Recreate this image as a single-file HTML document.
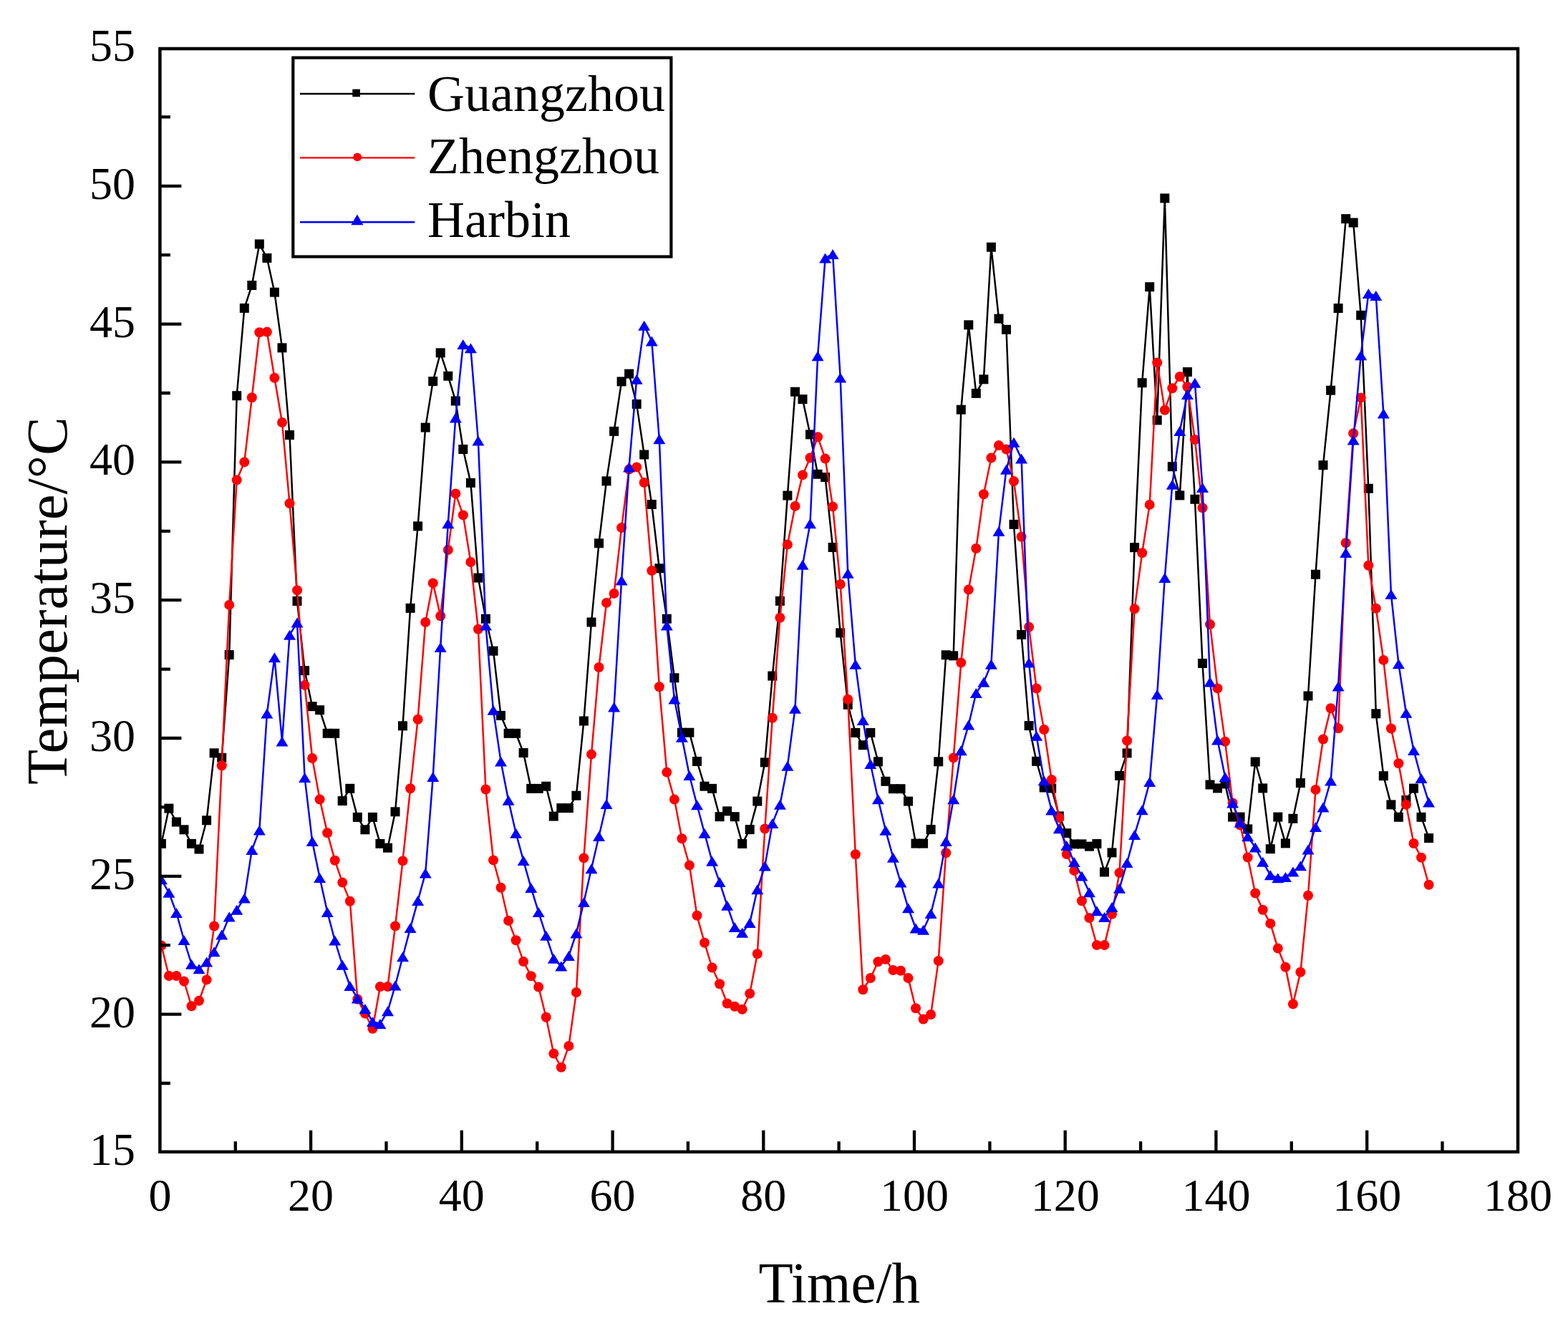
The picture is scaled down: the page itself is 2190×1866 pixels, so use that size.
<!DOCTYPE html>
<html><head><meta charset="utf-8"><title>Temperature chart</title>
<style>html,body{margin:0;padding:0;background:#fff;}svg{display:block;}</style>
</head><body>
<svg width="2190" height="1866" viewBox="0 0 2190 1866">
<rect width="2190" height="1866" fill="#fff"/>
<g font-family="'Liberation Serif', 'Times New Roman', serif" fill="#000">
<g font-size="64"><text x="223.4" y="1690.5" text-anchor="middle">0</text><text x="434.1" y="1690.5" text-anchor="middle">20</text><text x="644.8" y="1690.5" text-anchor="middle">40</text><text x="855.6" y="1690.5" text-anchor="middle">60</text><text x="1066.3" y="1690.5" text-anchor="middle">80</text><text x="1277.0" y="1690.5" text-anchor="middle">100</text><text x="1487.7" y="1690.5" text-anchor="middle">120</text><text x="1698.4" y="1690.5" text-anchor="middle">140</text><text x="1909.2" y="1690.5" text-anchor="middle">160</text><text x="2119.9" y="1690.5" text-anchor="middle">180</text><text x="189" y="1627.4" text-anchor="end">15</text><text x="189" y="1434.6" text-anchor="end">20</text><text x="189" y="1241.8" text-anchor="end">25</text><text x="189" y="1049.0" text-anchor="end">30</text><text x="189" y="856.2" text-anchor="end">35</text><text x="189" y="663.4" text-anchor="end">40</text><text x="189" y="470.6" text-anchor="end">45</text><text x="189" y="277.8" text-anchor="end">50</text><text x="189" y="85.0" text-anchor="end">55</text></g>
<text transform="translate(1172.3 1818.7) scale(1 1.02)" font-size="79" text-anchor="middle">Time/h</text>
<text transform="translate(93.4 839.2) rotate(-90)" font-size="80.5" text-anchor="middle">Temperature/°C</text>
</g>
<defs><clipPath id="pc"><rect x="223.4" y="68.0" width="1896.6" height="1540.8"/></clipPath></defs>
<g clip-path="url(#pc)">
<polyline fill="none" stroke="#000" stroke-width="2.5" stroke-linejoin="round" points="225.4,1178.4 235.9,1129.1 246.4,1148.0 257.0,1158.8 267.5,1178.4 278.0,1186.0 288.6,1145.8 299.1,1051.8 309.7,1058.3 320.2,914.6 330.7,552.7 341.3,430.4 351.8,398.5 362.3,340.9 372.9,360.4 383.4,408.2 394.0,485.8 404.5,607.6 415.0,839.6 425.6,936.7 436.1,986.7 446.6,991.7 457.2,1024.3 467.7,1024.3 478.2,1118.6 488.8,1101.3 499.3,1141.4 509.9,1158.8 520.4,1141.4 530.9,1178.4 541.5,1184.2 552.0,1133.8 562.5,1013.8 573.1,849.4 583.6,734.9 594.2,597.1 604.7,532.6 615.2,492.8 625.8,525.2 636.3,560.0 646.8,627.5 657.4,674.4 667.9,807.1 678.4,864.3 689.0,909.2 699.5,999.4 710.1,1024.3 720.6,1024.3 731.1,1051.5 741.7,1101.4 752.2,1101.4 762.7,1098.2 773.3,1140.1 783.8,1128.6 794.4,1128.6 804.9,1111.2 815.4,1007.0 826.0,869.0 836.5,758.8 847.0,671.9 857.6,602.4 868.1,532.9 878.6,522.1 889.2,564.4 899.7,635.0 910.3,704.5 920.8,793.8 931.3,864.3 941.9,946.8 952.4,1023.2 962.9,1023.2 973.5,1063.4 984.0,1098.2 994.6,1101.4 1005.1,1140.7 1015.6,1132.9 1026.2,1140.7 1036.7,1178.5 1047.2,1158.6 1057.8,1119.1 1068.3,1064.9 1078.8,944.1 1089.4,839.4 1099.9,692.1 1110.5,547.2 1121.0,557.6 1131.5,606.9 1142.1,662.3 1152.6,666.6 1163.1,764.5 1173.7,883.9 1184.2,984.3 1194.8,1023.4 1205.3,1040.7 1215.8,1023.4 1226.4,1063.8 1236.9,1091.3 1247.4,1101.7 1258.0,1101.7 1268.5,1119.1 1279.0,1178.1 1289.6,1178.1 1300.1,1158.6 1310.7,1063.8 1321.2,914.8 1331.7,915.9 1342.3,572.2 1352.8,453.8 1363.3,549.4 1373.9,529.8 1384.4,345.2 1395.0,445.1 1405.5,460.3 1416.0,732.4 1426.6,886.5 1437.1,1013.6 1447.6,1063.3 1458.2,1100.0 1468.7,1101.0 1479.3,1139.9 1489.8,1163.7 1500.3,1178.9 1510.9,1178.9 1521.4,1182.2 1531.9,1178.5 1542.5,1218.0 1553.0,1190.9 1563.5,1083.4 1574.1,1051.9 1584.6,764.7 1595.2,534.7 1605.7,400.7 1616.2,586.9 1626.8,276.9 1637.3,651.7 1647.8,691.9 1658.4,519.5 1668.9,697.3 1679.5,926.5 1690.0,1096.0 1700.5,1100.9 1711.1,1094.9 1721.6,1141.1 1732.1,1141.1 1742.7,1157.9 1753.2,1064.0 1763.7,1100.9 1774.3,1185.7 1784.8,1141.1 1795.4,1177.9 1805.9,1143.3 1816.4,1093.6 1827.0,972.0 1837.5,802.3 1848.0,649.7 1858.6,545.2 1869.1,430.5 1879.7,305.6 1890.2,311.0 1900.7,440.3 1911.3,682.3 1921.8,996.8 1932.3,1083.7 1942.9,1123.9 1953.4,1141.2 1963.9,1117.4 1974.5,1101.1 1985.0,1141.2 1995.6,1170.6"/>
<g fill="#000"><rect x="218.9" y="1171.9" width="13.0" height="13.0"/><rect x="229.4" y="1122.6" width="13.0" height="13.0"/><rect x="239.9" y="1141.5" width="13.0" height="13.0"/><rect x="250.5" y="1152.3" width="13.0" height="13.0"/><rect x="261.0" y="1171.9" width="13.0" height="13.0"/><rect x="271.5" y="1179.5" width="13.0" height="13.0"/><rect x="282.1" y="1139.3" width="13.0" height="13.0"/><rect x="292.6" y="1045.3" width="13.0" height="13.0"/><rect x="303.2" y="1051.8" width="13.0" height="13.0"/><rect x="313.7" y="908.1" width="13.0" height="13.0"/><rect x="324.2" y="546.2" width="13.0" height="13.0"/><rect x="334.8" y="423.9" width="13.0" height="13.0"/><rect x="345.3" y="392.0" width="13.0" height="13.0"/><rect x="355.8" y="334.4" width="13.0" height="13.0"/><rect x="366.4" y="353.9" width="13.0" height="13.0"/><rect x="376.9" y="401.7" width="13.0" height="13.0"/><rect x="387.5" y="479.3" width="13.0" height="13.0"/><rect x="398.0" y="601.1" width="13.0" height="13.0"/><rect x="408.5" y="833.1" width="13.0" height="13.0"/><rect x="419.1" y="930.2" width="13.0" height="13.0"/><rect x="429.6" y="980.2" width="13.0" height="13.0"/><rect x="440.1" y="985.2" width="13.0" height="13.0"/><rect x="450.7" y="1017.8" width="13.0" height="13.0"/><rect x="461.2" y="1017.8" width="13.0" height="13.0"/><rect x="471.7" y="1112.1" width="13.0" height="13.0"/><rect x="482.3" y="1094.8" width="13.0" height="13.0"/><rect x="492.8" y="1134.9" width="13.0" height="13.0"/><rect x="503.4" y="1152.3" width="13.0" height="13.0"/><rect x="513.9" y="1134.9" width="13.0" height="13.0"/><rect x="524.4" y="1171.9" width="13.0" height="13.0"/><rect x="535.0" y="1177.7" width="13.0" height="13.0"/><rect x="545.5" y="1127.3" width="13.0" height="13.0"/><rect x="556.0" y="1007.3" width="13.0" height="13.0"/><rect x="566.6" y="842.9" width="13.0" height="13.0"/><rect x="577.1" y="728.4" width="13.0" height="13.0"/><rect x="587.7" y="590.6" width="13.0" height="13.0"/><rect x="598.2" y="526.1" width="13.0" height="13.0"/><rect x="608.7" y="486.3" width="13.0" height="13.0"/><rect x="619.3" y="518.7" width="13.0" height="13.0"/><rect x="629.8" y="553.5" width="13.0" height="13.0"/><rect x="640.3" y="621.0" width="13.0" height="13.0"/><rect x="650.9" y="667.9" width="13.0" height="13.0"/><rect x="661.4" y="800.6" width="13.0" height="13.0"/><rect x="671.9" y="857.8" width="13.0" height="13.0"/><rect x="682.5" y="902.7" width="13.0" height="13.0"/><rect x="693.0" y="992.9" width="13.0" height="13.0"/><rect x="703.6" y="1017.8" width="13.0" height="13.0"/><rect x="714.1" y="1017.8" width="13.0" height="13.0"/><rect x="724.6" y="1045.0" width="13.0" height="13.0"/><rect x="735.2" y="1094.9" width="13.0" height="13.0"/><rect x="745.7" y="1094.9" width="13.0" height="13.0"/><rect x="756.2" y="1091.7" width="13.0" height="13.0"/><rect x="766.8" y="1133.6" width="13.0" height="13.0"/><rect x="777.3" y="1122.1" width="13.0" height="13.0"/><rect x="787.9" y="1122.1" width="13.0" height="13.0"/><rect x="798.4" y="1104.7" width="13.0" height="13.0"/><rect x="808.9" y="1000.5" width="13.0" height="13.0"/><rect x="819.5" y="862.5" width="13.0" height="13.0"/><rect x="830.0" y="752.3" width="13.0" height="13.0"/><rect x="840.5" y="665.4" width="13.0" height="13.0"/><rect x="851.1" y="595.9" width="13.0" height="13.0"/><rect x="861.6" y="526.4" width="13.0" height="13.0"/><rect x="872.1" y="515.6" width="13.0" height="13.0"/><rect x="882.7" y="557.9" width="13.0" height="13.0"/><rect x="893.2" y="628.5" width="13.0" height="13.0"/><rect x="903.8" y="698.0" width="13.0" height="13.0"/><rect x="914.3" y="787.3" width="13.0" height="13.0"/><rect x="924.8" y="857.8" width="13.0" height="13.0"/><rect x="935.4" y="940.3" width="13.0" height="13.0"/><rect x="945.9" y="1016.7" width="13.0" height="13.0"/><rect x="956.4" y="1016.7" width="13.0" height="13.0"/><rect x="967.0" y="1056.9" width="13.0" height="13.0"/><rect x="977.5" y="1091.7" width="13.0" height="13.0"/><rect x="988.1" y="1094.9" width="13.0" height="13.0"/><rect x="998.6" y="1134.2" width="13.0" height="13.0"/><rect x="1009.1" y="1126.4" width="13.0" height="13.0"/><rect x="1019.7" y="1134.2" width="13.0" height="13.0"/><rect x="1030.2" y="1172.0" width="13.0" height="13.0"/><rect x="1040.7" y="1152.1" width="13.0" height="13.0"/><rect x="1051.3" y="1112.6" width="13.0" height="13.0"/><rect x="1061.8" y="1058.4" width="13.0" height="13.0"/><rect x="1072.3" y="937.6" width="13.0" height="13.0"/><rect x="1082.9" y="832.9" width="13.0" height="13.0"/><rect x="1093.4" y="685.6" width="13.0" height="13.0"/><rect x="1104.0" y="540.7" width="13.0" height="13.0"/><rect x="1114.5" y="551.1" width="13.0" height="13.0"/><rect x="1125.0" y="600.4" width="13.0" height="13.0"/><rect x="1135.6" y="655.8" width="13.0" height="13.0"/><rect x="1146.1" y="660.1" width="13.0" height="13.0"/><rect x="1156.6" y="758.0" width="13.0" height="13.0"/><rect x="1167.2" y="877.4" width="13.0" height="13.0"/><rect x="1177.7" y="977.8" width="13.0" height="13.0"/><rect x="1188.3" y="1016.9" width="13.0" height="13.0"/><rect x="1198.8" y="1034.2" width="13.0" height="13.0"/><rect x="1209.3" y="1016.9" width="13.0" height="13.0"/><rect x="1219.9" y="1057.3" width="13.0" height="13.0"/><rect x="1230.4" y="1084.8" width="13.0" height="13.0"/><rect x="1240.9" y="1095.2" width="13.0" height="13.0"/><rect x="1251.5" y="1095.2" width="13.0" height="13.0"/><rect x="1262.0" y="1112.6" width="13.0" height="13.0"/><rect x="1272.5" y="1171.6" width="13.0" height="13.0"/><rect x="1283.1" y="1171.6" width="13.0" height="13.0"/><rect x="1293.6" y="1152.1" width="13.0" height="13.0"/><rect x="1304.2" y="1057.3" width="13.0" height="13.0"/><rect x="1314.7" y="908.3" width="13.0" height="13.0"/><rect x="1325.2" y="909.4" width="13.0" height="13.0"/><rect x="1335.8" y="565.7" width="13.0" height="13.0"/><rect x="1346.3" y="447.3" width="13.0" height="13.0"/><rect x="1356.8" y="542.9" width="13.0" height="13.0"/><rect x="1367.4" y="523.3" width="13.0" height="13.0"/><rect x="1377.9" y="338.7" width="13.0" height="13.0"/><rect x="1388.5" y="438.6" width="13.0" height="13.0"/><rect x="1399.0" y="453.8" width="13.0" height="13.0"/><rect x="1409.5" y="725.9" width="13.0" height="13.0"/><rect x="1420.1" y="880.0" width="13.0" height="13.0"/><rect x="1430.6" y="1007.1" width="13.0" height="13.0"/><rect x="1441.1" y="1056.8" width="13.0" height="13.0"/><rect x="1451.7" y="1093.5" width="13.0" height="13.0"/><rect x="1462.2" y="1094.5" width="13.0" height="13.0"/><rect x="1472.8" y="1133.4" width="13.0" height="13.0"/><rect x="1483.3" y="1157.2" width="13.0" height="13.0"/><rect x="1493.8" y="1172.4" width="13.0" height="13.0"/><rect x="1504.4" y="1172.4" width="13.0" height="13.0"/><rect x="1514.9" y="1175.7" width="13.0" height="13.0"/><rect x="1525.4" y="1172.0" width="13.0" height="13.0"/><rect x="1536.0" y="1211.5" width="13.0" height="13.0"/><rect x="1546.5" y="1184.4" width="13.0" height="13.0"/><rect x="1557.0" y="1076.9" width="13.0" height="13.0"/><rect x="1567.6" y="1045.4" width="13.0" height="13.0"/><rect x="1578.1" y="758.2" width="13.0" height="13.0"/><rect x="1588.7" y="528.2" width="13.0" height="13.0"/><rect x="1599.2" y="394.2" width="13.0" height="13.0"/><rect x="1609.7" y="580.4" width="13.0" height="13.0"/><rect x="1620.3" y="270.4" width="13.0" height="13.0"/><rect x="1630.8" y="645.2" width="13.0" height="13.0"/><rect x="1641.3" y="685.4" width="13.0" height="13.0"/><rect x="1651.9" y="513.0" width="13.0" height="13.0"/><rect x="1662.4" y="690.8" width="13.0" height="13.0"/><rect x="1673.0" y="920.0" width="13.0" height="13.0"/><rect x="1683.5" y="1089.5" width="13.0" height="13.0"/><rect x="1694.0" y="1094.4" width="13.0" height="13.0"/><rect x="1704.6" y="1088.4" width="13.0" height="13.0"/><rect x="1715.1" y="1134.6" width="13.0" height="13.0"/><rect x="1725.6" y="1134.6" width="13.0" height="13.0"/><rect x="1736.2" y="1151.4" width="13.0" height="13.0"/><rect x="1746.7" y="1057.5" width="13.0" height="13.0"/><rect x="1757.2" y="1094.4" width="13.0" height="13.0"/><rect x="1767.8" y="1179.2" width="13.0" height="13.0"/><rect x="1778.3" y="1134.6" width="13.0" height="13.0"/><rect x="1788.9" y="1171.4" width="13.0" height="13.0"/><rect x="1799.4" y="1136.8" width="13.0" height="13.0"/><rect x="1809.9" y="1087.1" width="13.0" height="13.0"/><rect x="1820.5" y="965.5" width="13.0" height="13.0"/><rect x="1831.0" y="795.8" width="13.0" height="13.0"/><rect x="1841.5" y="643.2" width="13.0" height="13.0"/><rect x="1852.1" y="538.7" width="13.0" height="13.0"/><rect x="1862.6" y="424.0" width="13.0" height="13.0"/><rect x="1873.2" y="299.1" width="13.0" height="13.0"/><rect x="1883.7" y="304.5" width="13.0" height="13.0"/><rect x="1894.2" y="433.8" width="13.0" height="13.0"/><rect x="1904.8" y="675.8" width="13.0" height="13.0"/><rect x="1915.3" y="990.3" width="13.0" height="13.0"/><rect x="1925.8" y="1077.2" width="13.0" height="13.0"/><rect x="1936.4" y="1117.4" width="13.0" height="13.0"/><rect x="1946.9" y="1134.8" width="13.0" height="13.0"/><rect x="1957.4" y="1110.9" width="13.0" height="13.0"/><rect x="1968.0" y="1094.6" width="13.0" height="13.0"/><rect x="1978.5" y="1134.8" width="13.0" height="13.0"/><rect x="1989.1" y="1164.1" width="13.0" height="13.0"/></g>
<polyline fill="none" stroke="#f00" stroke-width="2.5" stroke-linejoin="round" points="225.4,1320.6 235.9,1363.0 246.4,1363.0 257.0,1370.6 267.5,1405.3 278.0,1397.7 288.6,1368.4 299.1,1293.5 309.7,1069.2 320.2,844.9 330.7,670.4 341.3,645.4 351.8,555.3 362.3,464.3 372.9,463.6 383.4,527.7 394.0,590.0 404.5,703.1 415.0,824.4 425.6,956.9 436.1,1059.0 446.6,1116.5 457.2,1163.2 467.7,1201.7 478.2,1232.6 488.8,1258.7 499.3,1395.5 509.9,1415.6 520.4,1436.8 530.9,1378.1 541.5,1378.1 552.0,1293.4 562.5,1202.4 573.1,1101.3 583.6,1004.7 594.2,869.0 604.7,814.4 615.2,860.5 625.8,768.0 636.3,689.4 646.8,719.4 657.4,785.0 667.9,878.8 678.4,1102.5 689.0,1201.4 699.5,1239.7 710.1,1285.9 720.6,1313.2 731.1,1343.1 741.7,1363.2 752.2,1378.6 762.7,1420.7 773.3,1471.6 783.8,1490.8 794.4,1460.9 804.9,1386.0 815.4,1198.4 826.0,1053.6 836.5,932.0 847.0,841.9 857.6,828.9 868.1,737.1 878.6,655.6 889.2,652.4 899.7,674.1 910.3,797.1 920.8,959.2 931.3,1078.6 941.9,1116.6 952.4,1171.3 962.9,1208.6 973.5,1278.8 984.0,1316.8 994.6,1351.5 1005.1,1374.3 1015.6,1401.5 1026.2,1405.8 1036.7,1409.8 1047.2,1387.7 1057.8,1332.3 1068.3,1157.5 1078.8,1002.7 1089.4,862.7 1099.9,760.6 1110.5,706.9 1121.0,663.4 1131.5,639.5 1142.1,610.2 1152.6,640.6 1163.1,707.6 1173.7,816.0 1184.2,976.7 1194.8,1193.3 1205.3,1382.3 1215.8,1366.0 1226.4,1343.2 1236.9,1339.9 1247.4,1355.1 1258.0,1355.8 1268.5,1366.0 1279.0,1408.3 1289.6,1423.6 1300.1,1417.0 1310.7,1342.1 1321.2,1191.2 1331.7,1058.4 1342.3,925.6 1352.8,823.6 1363.3,766.0 1373.9,690.3 1384.4,639.5 1395.0,622.1 1405.5,627.5 1416.0,672.1 1426.6,749.7 1437.1,875.7 1447.6,961.5 1458.2,1019.0 1468.7,1089.1 1479.3,1142.0 1489.8,1193.1 1500.3,1215.9 1510.9,1258.2 1521.4,1282.1 1531.9,1320.1 1542.5,1320.1 1553.0,1276.7 1563.5,1219.1 1574.1,1034.5 1584.6,850.4 1595.2,772.3 1605.7,704.9 1616.2,506.5 1626.8,572.7 1637.3,542.3 1647.8,526.0 1658.4,540.2 1668.9,614.0 1679.5,709.3 1690.0,872.1 1700.5,961.4 1711.1,1035.8 1721.6,1121.5 1732.1,1152.5 1742.7,1197.5 1753.2,1247.5 1763.7,1270.7 1774.3,1289.9 1784.8,1324.6 1795.4,1350.7 1805.9,1402.4 1816.4,1357.8 1827.0,1250.8 1837.5,1102.9 1848.0,1032.5 1858.6,989.3 1869.1,1017.3 1879.7,758.3 1890.2,605.3 1900.7,555.4 1911.3,789.8 1921.8,849.7 1932.3,921.9 1942.9,1017.5 1953.4,1066.3 1963.9,1123.9 1974.5,1178.0 1985.0,1197.7 1995.6,1235.8"/>
<g fill="#f00"><circle cx="225.4" cy="1320.6" r="7.0"/><circle cx="235.9" cy="1363.0" r="7.0"/><circle cx="246.4" cy="1363.0" r="7.0"/><circle cx="257.0" cy="1370.6" r="7.0"/><circle cx="267.5" cy="1405.3" r="7.0"/><circle cx="278.0" cy="1397.7" r="7.0"/><circle cx="288.6" cy="1368.4" r="7.0"/><circle cx="299.1" cy="1293.5" r="7.0"/><circle cx="309.7" cy="1069.2" r="7.0"/><circle cx="320.2" cy="844.9" r="7.0"/><circle cx="330.7" cy="670.4" r="7.0"/><circle cx="341.3" cy="645.4" r="7.0"/><circle cx="351.8" cy="555.3" r="7.0"/><circle cx="362.3" cy="464.3" r="7.0"/><circle cx="372.9" cy="463.6" r="7.0"/><circle cx="383.4" cy="527.7" r="7.0"/><circle cx="394.0" cy="590.0" r="7.0"/><circle cx="404.5" cy="703.1" r="7.0"/><circle cx="415.0" cy="824.4" r="7.0"/><circle cx="425.6" cy="956.9" r="7.0"/><circle cx="436.1" cy="1059.0" r="7.0"/><circle cx="446.6" cy="1116.5" r="7.0"/><circle cx="457.2" cy="1163.2" r="7.0"/><circle cx="467.7" cy="1201.7" r="7.0"/><circle cx="478.2" cy="1232.6" r="7.0"/><circle cx="488.8" cy="1258.7" r="7.0"/><circle cx="499.3" cy="1395.5" r="7.0"/><circle cx="509.9" cy="1415.6" r="7.0"/><circle cx="520.4" cy="1436.8" r="7.0"/><circle cx="530.9" cy="1378.1" r="7.0"/><circle cx="541.5" cy="1378.1" r="7.0"/><circle cx="552.0" cy="1293.4" r="7.0"/><circle cx="562.5" cy="1202.4" r="7.0"/><circle cx="573.1" cy="1101.3" r="7.0"/><circle cx="583.6" cy="1004.7" r="7.0"/><circle cx="594.2" cy="869.0" r="7.0"/><circle cx="604.7" cy="814.4" r="7.0"/><circle cx="615.2" cy="860.5" r="7.0"/><circle cx="625.8" cy="768.0" r="7.0"/><circle cx="636.3" cy="689.4" r="7.0"/><circle cx="646.8" cy="719.4" r="7.0"/><circle cx="657.4" cy="785.0" r="7.0"/><circle cx="667.9" cy="878.8" r="7.0"/><circle cx="678.4" cy="1102.5" r="7.0"/><circle cx="689.0" cy="1201.4" r="7.0"/><circle cx="699.5" cy="1239.7" r="7.0"/><circle cx="710.1" cy="1285.9" r="7.0"/><circle cx="720.6" cy="1313.2" r="7.0"/><circle cx="731.1" cy="1343.1" r="7.0"/><circle cx="741.7" cy="1363.2" r="7.0"/><circle cx="752.2" cy="1378.6" r="7.0"/><circle cx="762.7" cy="1420.7" r="7.0"/><circle cx="773.3" cy="1471.6" r="7.0"/><circle cx="783.8" cy="1490.8" r="7.0"/><circle cx="794.4" cy="1460.9" r="7.0"/><circle cx="804.9" cy="1386.0" r="7.0"/><circle cx="815.4" cy="1198.4" r="7.0"/><circle cx="826.0" cy="1053.6" r="7.0"/><circle cx="836.5" cy="932.0" r="7.0"/><circle cx="847.0" cy="841.9" r="7.0"/><circle cx="857.6" cy="828.9" r="7.0"/><circle cx="868.1" cy="737.1" r="7.0"/><circle cx="878.6" cy="655.6" r="7.0"/><circle cx="889.2" cy="652.4" r="7.0"/><circle cx="899.7" cy="674.1" r="7.0"/><circle cx="910.3" cy="797.1" r="7.0"/><circle cx="920.8" cy="959.2" r="7.0"/><circle cx="931.3" cy="1078.6" r="7.0"/><circle cx="941.9" cy="1116.6" r="7.0"/><circle cx="952.4" cy="1171.3" r="7.0"/><circle cx="962.9" cy="1208.6" r="7.0"/><circle cx="973.5" cy="1278.8" r="7.0"/><circle cx="984.0" cy="1316.8" r="7.0"/><circle cx="994.6" cy="1351.5" r="7.0"/><circle cx="1005.1" cy="1374.3" r="7.0"/><circle cx="1015.6" cy="1401.5" r="7.0"/><circle cx="1026.2" cy="1405.8" r="7.0"/><circle cx="1036.7" cy="1409.8" r="7.0"/><circle cx="1047.2" cy="1387.7" r="7.0"/><circle cx="1057.8" cy="1332.3" r="7.0"/><circle cx="1068.3" cy="1157.5" r="7.0"/><circle cx="1078.8" cy="1002.7" r="7.0"/><circle cx="1089.4" cy="862.7" r="7.0"/><circle cx="1099.9" cy="760.6" r="7.0"/><circle cx="1110.5" cy="706.9" r="7.0"/><circle cx="1121.0" cy="663.4" r="7.0"/><circle cx="1131.5" cy="639.5" r="7.0"/><circle cx="1142.1" cy="610.2" r="7.0"/><circle cx="1152.6" cy="640.6" r="7.0"/><circle cx="1163.1" cy="707.6" r="7.0"/><circle cx="1173.7" cy="816.0" r="7.0"/><circle cx="1184.2" cy="976.7" r="7.0"/><circle cx="1194.8" cy="1193.3" r="7.0"/><circle cx="1205.3" cy="1382.3" r="7.0"/><circle cx="1215.8" cy="1366.0" r="7.0"/><circle cx="1226.4" cy="1343.2" r="7.0"/><circle cx="1236.9" cy="1339.9" r="7.0"/><circle cx="1247.4" cy="1355.1" r="7.0"/><circle cx="1258.0" cy="1355.8" r="7.0"/><circle cx="1268.5" cy="1366.0" r="7.0"/><circle cx="1279.0" cy="1408.3" r="7.0"/><circle cx="1289.6" cy="1423.6" r="7.0"/><circle cx="1300.1" cy="1417.0" r="7.0"/><circle cx="1310.7" cy="1342.1" r="7.0"/><circle cx="1321.2" cy="1191.2" r="7.0"/><circle cx="1331.7" cy="1058.4" r="7.0"/><circle cx="1342.3" cy="925.6" r="7.0"/><circle cx="1352.8" cy="823.6" r="7.0"/><circle cx="1363.3" cy="766.0" r="7.0"/><circle cx="1373.9" cy="690.3" r="7.0"/><circle cx="1384.4" cy="639.5" r="7.0"/><circle cx="1395.0" cy="622.1" r="7.0"/><circle cx="1405.5" cy="627.5" r="7.0"/><circle cx="1416.0" cy="672.1" r="7.0"/><circle cx="1426.6" cy="749.7" r="7.0"/><circle cx="1437.1" cy="875.7" r="7.0"/><circle cx="1447.6" cy="961.5" r="7.0"/><circle cx="1458.2" cy="1019.0" r="7.0"/><circle cx="1468.7" cy="1089.1" r="7.0"/><circle cx="1479.3" cy="1142.0" r="7.0"/><circle cx="1489.8" cy="1193.1" r="7.0"/><circle cx="1500.3" cy="1215.9" r="7.0"/><circle cx="1510.9" cy="1258.2" r="7.0"/><circle cx="1521.4" cy="1282.1" r="7.0"/><circle cx="1531.9" cy="1320.1" r="7.0"/><circle cx="1542.5" cy="1320.1" r="7.0"/><circle cx="1553.0" cy="1276.7" r="7.0"/><circle cx="1563.5" cy="1219.1" r="7.0"/><circle cx="1574.1" cy="1034.5" r="7.0"/><circle cx="1584.6" cy="850.4" r="7.0"/><circle cx="1595.2" cy="772.3" r="7.0"/><circle cx="1605.7" cy="704.9" r="7.0"/><circle cx="1616.2" cy="506.5" r="7.0"/><circle cx="1626.8" cy="572.7" r="7.0"/><circle cx="1637.3" cy="542.3" r="7.0"/><circle cx="1647.8" cy="526.0" r="7.0"/><circle cx="1658.4" cy="540.2" r="7.0"/><circle cx="1668.9" cy="614.0" r="7.0"/><circle cx="1679.5" cy="709.3" r="7.0"/><circle cx="1690.0" cy="872.1" r="7.0"/><circle cx="1700.5" cy="961.4" r="7.0"/><circle cx="1711.1" cy="1035.8" r="7.0"/><circle cx="1721.6" cy="1121.5" r="7.0"/><circle cx="1732.1" cy="1152.5" r="7.0"/><circle cx="1742.7" cy="1197.5" r="7.0"/><circle cx="1753.2" cy="1247.5" r="7.0"/><circle cx="1763.7" cy="1270.7" r="7.0"/><circle cx="1774.3" cy="1289.9" r="7.0"/><circle cx="1784.8" cy="1324.6" r="7.0"/><circle cx="1795.4" cy="1350.7" r="7.0"/><circle cx="1805.9" cy="1402.4" r="7.0"/><circle cx="1816.4" cy="1357.8" r="7.0"/><circle cx="1827.0" cy="1250.8" r="7.0"/><circle cx="1837.5" cy="1102.9" r="7.0"/><circle cx="1848.0" cy="1032.5" r="7.0"/><circle cx="1858.6" cy="989.3" r="7.0"/><circle cx="1869.1" cy="1017.3" r="7.0"/><circle cx="1879.7" cy="758.3" r="7.0"/><circle cx="1890.2" cy="605.3" r="7.0"/><circle cx="1900.7" cy="555.4" r="7.0"/><circle cx="1911.3" cy="789.8" r="7.0"/><circle cx="1921.8" cy="849.7" r="7.0"/><circle cx="1932.3" cy="921.9" r="7.0"/><circle cx="1942.9" cy="1017.5" r="7.0"/><circle cx="1953.4" cy="1066.3" r="7.0"/><circle cx="1963.9" cy="1123.9" r="7.0"/><circle cx="1974.5" cy="1178.0" r="7.0"/><circle cx="1985.0" cy="1197.7" r="7.0"/><circle cx="1995.6" cy="1235.8" r="7.0"/></g>
<polyline fill="none" stroke="#00f" stroke-width="2.5" stroke-linejoin="round" points="225.4,1228.3 235.9,1246.8 246.4,1275.0 257.0,1313.0 267.5,1346.7 278.0,1353.2 288.6,1343.4 299.1,1329.3 309.7,1305.4 320.2,1280.4 330.7,1270.7 341.3,1254.4 351.8,1187.1 362.3,1159.5 372.9,996.5 383.4,918.3 394.0,1035.5 404.5,886.8 415.0,869.4 425.6,1086.1 436.1,1175.1 446.6,1226.1 457.2,1273.9 467.7,1313.5 478.2,1347.7 488.8,1377.0 499.3,1394.4 509.9,1409.1 520.4,1427.0 530.9,1429.9 541.5,1412.3 552.0,1376.5 562.5,1336.3 573.1,1296.1 583.6,1258.1 594.2,1219.4 604.7,1085.1 615.2,904.0 625.8,731.3 636.3,583.5 646.8,480.9 657.4,486.3 667.9,615.5 678.4,873.4 689.0,991.8 699.5,1063.4 710.1,1117.7 720.6,1163.7 731.1,1202.1 741.7,1239.9 752.2,1274.1 762.7,1306.7 773.3,1338.7 783.8,1349.6 794.4,1334.9 804.9,1303.5 815.4,1260.0 826.0,1213.3 836.5,1168.0 847.0,1123.1 857.6,987.4 868.1,810.4 878.6,652.4 889.2,529.7 899.7,454.7 910.3,476.5 920.8,613.3 931.3,873.4 941.9,976.5 952.4,1029.8 962.9,1083.0 973.5,1124.2 984.0,1163.7 994.6,1202.8 1005.1,1232.1 1015.6,1264.7 1026.2,1295.1 1036.7,1302.8 1047.2,1288.9 1057.8,1242.2 1068.3,1209.6 1078.8,1149.9 1089.4,1123.8 1099.9,1069.8 1110.5,989.7 1121.0,788.8 1131.5,731.3 1142.1,497.2 1152.6,360.4 1163.1,355.0 1173.7,527.6 1184.2,800.8 1194.8,927.8 1205.3,1006.0 1215.8,1067.1 1226.4,1116.2 1236.9,1159.7 1247.4,1197.7 1258.0,1232.4 1268.5,1268.3 1279.0,1296.5 1289.6,1298.7 1300.1,1275.9 1310.7,1233.5 1321.2,1174.9 1331.7,1116.2 1342.3,1048.3 1352.8,1012.5 1363.3,968.0 1373.9,952.8 1384.4,927.8 1395.0,742.1 1405.5,655.8 1416.0,617.8 1426.6,640.6 1437.1,925.6 1447.6,1027.7 1458.2,1090.2 1468.7,1131.4 1479.3,1157.2 1489.8,1181.1 1500.3,1203.9 1510.9,1223.5 1521.4,1246.3 1531.9,1272.3 1542.5,1281.0 1553.0,1266.9 1563.5,1240.8 1574.1,1205.0 1584.6,1165.9 1595.2,1131.2 1605.7,1092.1 1616.2,969.9 1626.8,807.0 1637.3,676.7 1647.8,602.1 1658.4,551.0 1668.9,534.7 1679.5,681.0 1690.0,952.4 1700.5,1033.6 1711.1,1085.2 1721.6,1121.5 1732.1,1148.7 1742.7,1168.2 1753.2,1183.5 1763.7,1203.8 1774.3,1222.2 1784.8,1226.2 1795.4,1225.1 1805.9,1217.5 1816.4,1209.2 1827.0,1186.4 1837.5,1154.9 1848.0,1127.5 1858.6,1090.6 1869.1,958.4 1879.7,771.9 1890.2,614.4 1900.7,496.2 1911.3,409.9 1921.8,413.1 1932.3,577.6 1942.9,830.1 1953.4,927.3 1963.9,995.7 1974.5,1047.9 1985.0,1087.0 1995.6,1120.6"/>
<g fill="#00f"><path d="M225.4 1221.3L233.9 1235.3L216.9 1235.3Z"/><path d="M235.9 1239.8L244.4 1253.8L227.4 1253.8Z"/><path d="M246.4 1268.0L254.9 1282.0L237.9 1282.0Z"/><path d="M257.0 1306.0L265.5 1320.0L248.5 1320.0Z"/><path d="M267.5 1339.7L276.0 1353.7L259.0 1353.7Z"/><path d="M278.0 1346.2L286.5 1360.2L269.5 1360.2Z"/><path d="M288.6 1336.4L297.1 1350.4L280.1 1350.4Z"/><path d="M299.1 1322.3L307.6 1336.3L290.6 1336.3Z"/><path d="M309.7 1298.4L318.2 1312.4L301.2 1312.4Z"/><path d="M320.2 1273.4L328.7 1287.4L311.7 1287.4Z"/><path d="M330.7 1263.7L339.2 1277.7L322.2 1277.7Z"/><path d="M341.3 1247.4L349.8 1261.4L332.8 1261.4Z"/><path d="M351.8 1180.1L360.3 1194.1L343.3 1194.1Z"/><path d="M362.3 1152.5L370.8 1166.5L353.8 1166.5Z"/><path d="M372.9 989.5L381.4 1003.5L364.4 1003.5Z"/><path d="M383.4 911.3L391.9 925.3L374.9 925.3Z"/><path d="M394.0 1028.5L402.5 1042.5L385.5 1042.5Z"/><path d="M404.5 879.8L413.0 893.8L396.0 893.8Z"/><path d="M415.0 862.4L423.5 876.4L406.5 876.4Z"/><path d="M425.6 1079.1L434.1 1093.1L417.1 1093.1Z"/><path d="M436.1 1168.1L444.6 1182.1L427.6 1182.1Z"/><path d="M446.6 1219.1L455.1 1233.1L438.1 1233.1Z"/><path d="M457.2 1266.9L465.7 1280.9L448.7 1280.9Z"/><path d="M467.7 1306.5L476.2 1320.5L459.2 1320.5Z"/><path d="M478.2 1340.7L486.7 1354.7L469.7 1354.7Z"/><path d="M488.8 1370.0L497.3 1384.0L480.3 1384.0Z"/><path d="M499.3 1387.4L507.8 1401.4L490.8 1401.4Z"/><path d="M509.9 1402.1L518.4 1416.1L501.4 1416.1Z"/><path d="M520.4 1420.0L528.9 1434.0L511.9 1434.0Z"/><path d="M530.9 1422.9L539.4 1436.9L522.4 1436.9Z"/><path d="M541.5 1405.3L550.0 1419.3L533.0 1419.3Z"/><path d="M552.0 1369.5L560.5 1383.5L543.5 1383.5Z"/><path d="M562.5 1329.3L571.0 1343.3L554.0 1343.3Z"/><path d="M573.1 1289.1L581.6 1303.1L564.6 1303.1Z"/><path d="M583.6 1251.1L592.1 1265.1L575.1 1265.1Z"/><path d="M594.2 1212.4L602.7 1226.4L585.7 1226.4Z"/><path d="M604.7 1078.1L613.2 1092.1L596.2 1092.1Z"/><path d="M615.2 897.0L623.7 911.0L606.7 911.0Z"/><path d="M625.8 724.3L634.3 738.3L617.3 738.3Z"/><path d="M636.3 576.5L644.8 590.5L627.8 590.5Z"/><path d="M646.8 473.9L655.3 487.9L638.3 487.9Z"/><path d="M657.4 479.3L665.9 493.3L648.9 493.3Z"/><path d="M667.9 608.5L676.4 622.5L659.4 622.5Z"/><path d="M678.4 866.4L686.9 880.4L669.9 880.4Z"/><path d="M689.0 984.8L697.5 998.8L680.5 998.8Z"/><path d="M699.5 1056.4L708.0 1070.4L691.0 1070.4Z"/><path d="M710.1 1110.7L718.6 1124.7L701.6 1124.7Z"/><path d="M720.6 1156.7L729.1 1170.7L712.1 1170.7Z"/><path d="M731.1 1195.1L739.6 1209.1L722.6 1209.1Z"/><path d="M741.7 1232.9L750.2 1246.9L733.2 1246.9Z"/><path d="M752.2 1267.1L760.7 1281.1L743.7 1281.1Z"/><path d="M762.7 1299.7L771.2 1313.7L754.2 1313.7Z"/><path d="M773.3 1331.7L781.8 1345.7L764.8 1345.7Z"/><path d="M783.8 1342.6L792.3 1356.6L775.3 1356.6Z"/><path d="M794.4 1327.9L802.9 1341.9L785.9 1341.9Z"/><path d="M804.9 1296.5L813.4 1310.5L796.4 1310.5Z"/><path d="M815.4 1253.0L823.9 1267.0L806.9 1267.0Z"/><path d="M826.0 1206.3L834.5 1220.3L817.5 1220.3Z"/><path d="M836.5 1161.0L845.0 1175.0L828.0 1175.0Z"/><path d="M847.0 1116.1L855.5 1130.1L838.5 1130.1Z"/><path d="M857.6 980.4L866.1 994.4L849.1 994.4Z"/><path d="M868.1 803.4L876.6 817.4L859.6 817.4Z"/><path d="M878.6 645.4L887.1 659.4L870.1 659.4Z"/><path d="M889.2 522.7L897.7 536.7L880.7 536.7Z"/><path d="M899.7 447.7L908.2 461.7L891.2 461.7Z"/><path d="M910.3 469.5L918.8 483.5L901.8 483.5Z"/><path d="M920.8 606.3L929.3 620.3L912.3 620.3Z"/><path d="M931.3 866.4L939.8 880.4L922.8 880.4Z"/><path d="M941.9 969.5L950.4 983.5L933.4 983.5Z"/><path d="M952.4 1022.8L960.9 1036.8L943.9 1036.8Z"/><path d="M962.9 1076.0L971.4 1090.0L954.4 1090.0Z"/><path d="M973.5 1117.2L982.0 1131.2L965.0 1131.2Z"/><path d="M984.0 1156.7L992.5 1170.7L975.5 1170.7Z"/><path d="M994.6 1195.8L1003.1 1209.8L986.1 1209.8Z"/><path d="M1005.1 1225.1L1013.6 1239.1L996.6 1239.1Z"/><path d="M1015.6 1257.7L1024.1 1271.7L1007.1 1271.7Z"/><path d="M1026.2 1288.1L1034.7 1302.1L1017.7 1302.1Z"/><path d="M1036.7 1295.8L1045.2 1309.8L1028.2 1309.8Z"/><path d="M1047.2 1281.9L1055.7 1295.9L1038.7 1295.9Z"/><path d="M1057.8 1235.2L1066.3 1249.2L1049.3 1249.2Z"/><path d="M1068.3 1202.6L1076.8 1216.6L1059.8 1216.6Z"/><path d="M1078.8 1142.9L1087.3 1156.9L1070.3 1156.9Z"/><path d="M1089.4 1116.8L1097.9 1130.8L1080.9 1130.8Z"/><path d="M1099.9 1062.8L1108.4 1076.8L1091.4 1076.8Z"/><path d="M1110.5 982.7L1119.0 996.7L1102.0 996.7Z"/><path d="M1121.0 781.8L1129.5 795.8L1112.5 795.8Z"/><path d="M1131.5 724.3L1140.0 738.3L1123.0 738.3Z"/><path d="M1142.1 490.2L1150.6 504.2L1133.6 504.2Z"/><path d="M1152.6 353.4L1161.1 367.4L1144.1 367.4Z"/><path d="M1163.1 348.0L1171.6 362.0L1154.6 362.0Z"/><path d="M1173.7 520.6L1182.2 534.6L1165.2 534.6Z"/><path d="M1184.2 793.8L1192.7 807.8L1175.7 807.8Z"/><path d="M1194.8 920.8L1203.3 934.8L1186.3 934.8Z"/><path d="M1205.3 999.0L1213.8 1013.0L1196.8 1013.0Z"/><path d="M1215.8 1060.1L1224.3 1074.1L1207.3 1074.1Z"/><path d="M1226.4 1109.2L1234.9 1123.2L1217.9 1123.2Z"/><path d="M1236.9 1152.7L1245.4 1166.7L1228.4 1166.7Z"/><path d="M1247.4 1190.7L1255.9 1204.7L1238.9 1204.7Z"/><path d="M1258.0 1225.4L1266.5 1239.4L1249.5 1239.4Z"/><path d="M1268.5 1261.3L1277.0 1275.3L1260.0 1275.3Z"/><path d="M1279.0 1289.5L1287.5 1303.5L1270.5 1303.5Z"/><path d="M1289.6 1291.7L1298.1 1305.7L1281.1 1305.7Z"/><path d="M1300.1 1268.9L1308.6 1282.9L1291.6 1282.9Z"/><path d="M1310.7 1226.5L1319.2 1240.5L1302.2 1240.5Z"/><path d="M1321.2 1167.9L1329.7 1181.9L1312.7 1181.9Z"/><path d="M1331.7 1109.2L1340.2 1123.2L1323.2 1123.2Z"/><path d="M1342.3 1041.3L1350.8 1055.3L1333.8 1055.3Z"/><path d="M1352.8 1005.5L1361.3 1019.5L1344.3 1019.5Z"/><path d="M1363.3 961.0L1371.8 975.0L1354.8 975.0Z"/><path d="M1373.9 945.8L1382.4 959.8L1365.4 959.8Z"/><path d="M1384.4 920.8L1392.9 934.8L1375.9 934.8Z"/><path d="M1395.0 735.1L1403.5 749.1L1386.5 749.1Z"/><path d="M1405.5 648.8L1414.0 662.8L1397.0 662.8Z"/><path d="M1416.0 610.8L1424.5 624.8L1407.5 624.8Z"/><path d="M1426.6 633.6L1435.1 647.6L1418.1 647.6Z"/><path d="M1437.1 918.6L1445.6 932.6L1428.6 932.6Z"/><path d="M1447.6 1020.7L1456.1 1034.7L1439.1 1034.7Z"/><path d="M1458.2 1083.2L1466.7 1097.2L1449.7 1097.2Z"/><path d="M1468.7 1124.4L1477.2 1138.4L1460.2 1138.4Z"/><path d="M1479.3 1150.2L1487.8 1164.2L1470.8 1164.2Z"/><path d="M1489.8 1174.1L1498.3 1188.1L1481.3 1188.1Z"/><path d="M1500.3 1196.9L1508.8 1210.9L1491.8 1210.9Z"/><path d="M1510.9 1216.5L1519.4 1230.5L1502.4 1230.5Z"/><path d="M1521.4 1239.3L1529.9 1253.3L1512.9 1253.3Z"/><path d="M1531.9 1265.3L1540.4 1279.3L1523.4 1279.3Z"/><path d="M1542.5 1274.0L1551.0 1288.0L1534.0 1288.0Z"/><path d="M1553.0 1259.9L1561.5 1273.9L1544.5 1273.9Z"/><path d="M1563.5 1233.8L1572.0 1247.8L1555.0 1247.8Z"/><path d="M1574.1 1198.0L1582.6 1212.0L1565.6 1212.0Z"/><path d="M1584.6 1158.9L1593.1 1172.9L1576.1 1172.9Z"/><path d="M1595.2 1124.2L1603.7 1138.2L1586.7 1138.2Z"/><path d="M1605.7 1085.1L1614.2 1099.1L1597.2 1099.1Z"/><path d="M1616.2 962.9L1624.7 976.9L1607.7 976.9Z"/><path d="M1626.8 800.0L1635.3 814.0L1618.3 814.0Z"/><path d="M1637.3 669.7L1645.8 683.7L1628.8 683.7Z"/><path d="M1647.8 595.1L1656.3 609.1L1639.3 609.1Z"/><path d="M1658.4 544.0L1666.9 558.0L1649.9 558.0Z"/><path d="M1668.9 527.7L1677.4 541.7L1660.4 541.7Z"/><path d="M1679.5 674.0L1688.0 688.0L1671.0 688.0Z"/><path d="M1690.0 945.4L1698.5 959.4L1681.5 959.4Z"/><path d="M1700.5 1026.6L1709.0 1040.6L1692.0 1040.6Z"/><path d="M1711.1 1078.2L1719.6 1092.2L1702.6 1092.2Z"/><path d="M1721.6 1114.5L1730.1 1128.5L1713.1 1128.5Z"/><path d="M1732.1 1141.7L1740.6 1155.7L1723.6 1155.7Z"/><path d="M1742.7 1161.2L1751.2 1175.2L1734.2 1175.2Z"/><path d="M1753.2 1176.5L1761.7 1190.5L1744.7 1190.5Z"/><path d="M1763.7 1196.8L1772.2 1210.8L1755.2 1210.8Z"/><path d="M1774.3 1215.2L1782.8 1229.2L1765.8 1229.2Z"/><path d="M1784.8 1219.2L1793.3 1233.2L1776.3 1233.2Z"/><path d="M1795.4 1218.1L1803.9 1232.1L1786.9 1232.1Z"/><path d="M1805.9 1210.5L1814.4 1224.5L1797.4 1224.5Z"/><path d="M1816.4 1202.2L1824.9 1216.2L1807.9 1216.2Z"/><path d="M1827.0 1179.4L1835.5 1193.4L1818.5 1193.4Z"/><path d="M1837.5 1147.9L1846.0 1161.9L1829.0 1161.9Z"/><path d="M1848.0 1120.5L1856.5 1134.5L1839.5 1134.5Z"/><path d="M1858.6 1083.6L1867.1 1097.6L1850.1 1097.6Z"/><path d="M1869.1 951.4L1877.6 965.4L1860.6 965.4Z"/><path d="M1879.7 764.9L1888.2 778.9L1871.2 778.9Z"/><path d="M1890.2 607.4L1898.7 621.4L1881.7 621.4Z"/><path d="M1900.7 489.2L1909.2 503.2L1892.2 503.2Z"/><path d="M1911.3 402.9L1919.8 416.9L1902.8 416.9Z"/><path d="M1921.8 406.1L1930.3 420.1L1913.3 420.1Z"/><path d="M1932.3 570.6L1940.8 584.6L1923.8 584.6Z"/><path d="M1942.9 823.1L1951.4 837.1L1934.4 837.1Z"/><path d="M1953.4 920.3L1961.9 934.3L1944.9 934.3Z"/><path d="M1963.9 988.7L1972.4 1002.7L1955.4 1002.7Z"/><path d="M1974.5 1040.9L1983.0 1054.9L1966.0 1054.9Z"/><path d="M1985.0 1080.0L1993.5 1094.0L1976.5 1094.0Z"/><path d="M1995.6 1113.6L2004.1 1127.6L1987.1 1127.6Z"/></g>
</g>
<path d="M328.8 1608.8V1594.3M434.1 1608.8V1578.8M539.5 1608.8V1594.3M644.8 1608.8V1578.8M750.2 1608.8V1594.3M855.6 1608.8V1578.8M960.9 1608.8V1594.3M1066.3 1608.8V1578.8M1171.6 1608.8V1594.3M1277.0 1608.8V1578.8M1382.4 1608.8V1594.3M1487.7 1608.8V1578.8M1593.1 1608.8V1594.3M1698.4 1608.8V1578.8M1803.8 1608.8V1594.3M1909.2 1608.8V1578.8M2014.5 1608.8V1594.3M223.4 1513.0H237.9M223.4 1416.6H253.4M223.4 1320.2H237.9M223.4 1223.8H253.4M223.4 1127.4H237.9M223.4 1031.0H253.4M223.4 934.6H237.9M223.4 838.2H253.4M223.4 741.8H237.9M223.4 645.4H253.4M223.4 549.0H237.9M223.4 452.6H253.4M223.4 356.2H237.9M223.4 259.8H253.4M223.4 163.4H237.9" stroke="#000" stroke-width="4.3" fill="none"/>
<rect x="223.4" y="68.0" width="1896.6" height="1540.8" fill="none" stroke="#000" stroke-width="4.5"/>
<g>
<rect x="409.3" y="80.6" width="528.1" height="277.9" fill="#fff" stroke="#000" stroke-width="4.2"/>
<path d="M418.9 131H579.3" stroke="#000" stroke-width="2.4"/>
<rect x="492.3" y="124.6" width="10.6" height="10.6" fill="#000"/>
<path d="M418.9 220.4H579.3" stroke="#f00" stroke-width="2.4"/>
<circle cx="499.1" cy="219.4" r="5.9" fill="#f00"/>
<path d="M418.9 310.3H579.3" stroke="#00f" stroke-width="2.4"/>
<path d="M498.9 299.5L507.5 314.2L490.3 314.2Z" fill="#00f"/>
<g font-family="'Liberation Serif', 'Times New Roman', serif" font-size="72" fill="#000">
<text x="597" y="154.9">Guangzhou</text>
<text x="597" y="241.6">Zhengzhou</text>
<text x="597" y="331">Harbin</text>
</g>
</g>
</svg>
</body></html>
